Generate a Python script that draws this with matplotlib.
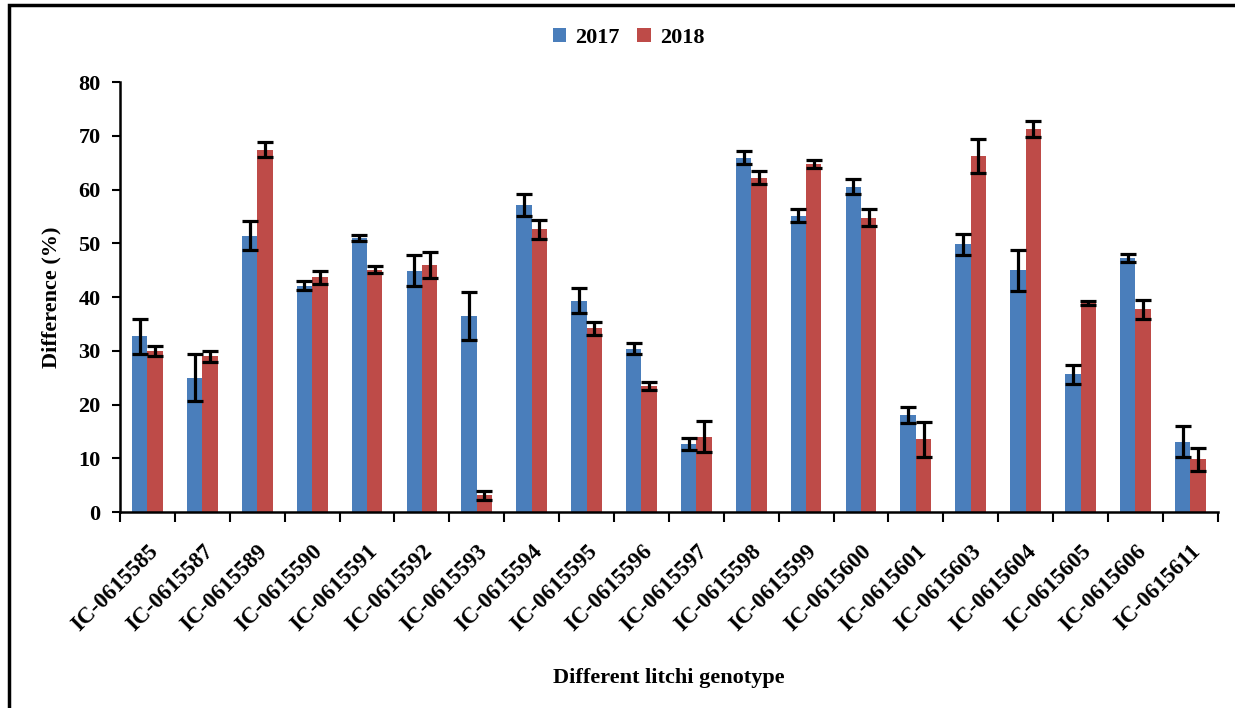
import numpy as np
import matplotlib
matplotlib.use("Agg")
import matplotlib.pyplot as plt
from matplotlib.patches import Rectangle

# Litchi genotypes and percentage difference per year (mean +/- error)
genotypes = ["IC-0615585", "IC-0615587", "IC-0615589", "IC-0615590", "IC-0615591",
             "IC-0615592", "IC-0615593", "IC-0615594", "IC-0615595", "IC-0615596",
             "IC-0615597", "IC-0615598", "IC-0615599", "IC-0615600", "IC-0615601",
             "IC-0615603", "IC-0615604", "IC-0615605", "IC-0615606", "IC-0615611"]
diff_2017 = [32.7, 25.0, 51.4, 42.1, 51.0, 44.9, 36.5, 57.1, 39.3, 30.4,
             12.6, 65.9, 55.1, 60.5, 18.0, 49.8, 45.0, 25.6, 47.3, 13.1]
err_2017 = [3.2, 4.4, 2.7, 0.8, 0.5, 2.9, 4.4, 2.0, 2.3, 1.0,
            1.1, 1.2, 1.2, 1.4, 1.5, 1.9, 3.8, 1.8, 0.8, 2.9]
diff_2018 = [30.0, 29.0, 67.4, 43.7, 45.1, 46.0, 3.1, 52.6, 34.2, 23.5,
             14.0, 62.2, 64.8, 54.8, 13.5, 66.2, 71.3, 38.9, 37.7, 9.8]
err_2018 = [0.9, 1.0, 1.4, 1.2, 0.6, 2.4, 0.8, 1.8, 1.2, 0.7,
            2.9, 1.2, 0.7, 1.6, 3.3, 3.2, 1.5, 0.4, 1.8, 2.1]

plt.rcParams['font.family'] = ['Liberation Serif', 'DejaVu Serif']
plt.rcParams['font.weight'] = 'bold'
plt.rcParams['axes.labelweight'] = 'bold'

fig = plt.figure(figsize=(12.35, 7.08), dpi=100)
ax = fig.add_axes([0.0972, 0.2768, 0.8888, 0.6072])

x = np.arange(len(genotypes))
w = 0.28
blue = "#4A7EBB"
red = "#BE4B48"
err_kw = dict(ecolor="black", elinewidth=2.3, capsize=5.5, capthick=2.3)

ax.bar(x - w / 2, diff_2017, w, yerr=err_2017, color=blue, label="2017",
       error_kw=err_kw, zorder=2)
ax.bar(x + w / 2, diff_2018, w, yerr=err_2018, color=red, label="2018",
       error_kw=err_kw, zorder=2)

ax.set_xlim(-0.5, len(genotypes) - 0.5)
ax.set_ylim(0, 80)
ax.set_yticks(np.arange(0, 81, 10))
ax.tick_params(axis='y', labelsize=16, direction='out', length=6, width=1.5, pad=8)

# ticks between categories, labels at category centres
ax.set_xticks(np.arange(-0.5, len(genotypes), 1.0))
ax.set_xticklabels([])
ax.set_xticks(x, minor=True)
ax.set_xticklabels(genotypes, minor=True, rotation=45, ha='right',
                   rotation_mode='anchor', fontsize=16.5)
ax.tick_params(axis='x', which='major', direction='out', length=7, width=1.5)
ax.tick_params(axis='x', which='minor', length=0, pad=21)

for side in ['top', 'right']:
    ax.spines[side].set_visible(False)
for side in ['left', 'bottom']:
    ax.spines[side].set_linewidth(1.8)

ax.set_ylabel("Difference (%)", fontsize=16, labelpad=12)
ax.set_xlabel("Different litchi genotype", fontsize=16, labelpad=23)

fig.legend(loc='center', bbox_to_anchor=(0.509, 0.946), ncol=2, frameon=False,
           fontsize=16, handlelength=0.6, handleheight=0.6, handletextpad=0.4,
           columnspacing=0.8)

# outer frame (top and left edges)
fig.add_artist(Rectangle((9 / 1235, -0.1), 1.2, 1 - 5 / 708 + 0.1,
                         transform=fig.transFigure, fill=False,
                         edgecolor='black', linewidth=2.5))

fig.savefig("out.png", dpi=100)
